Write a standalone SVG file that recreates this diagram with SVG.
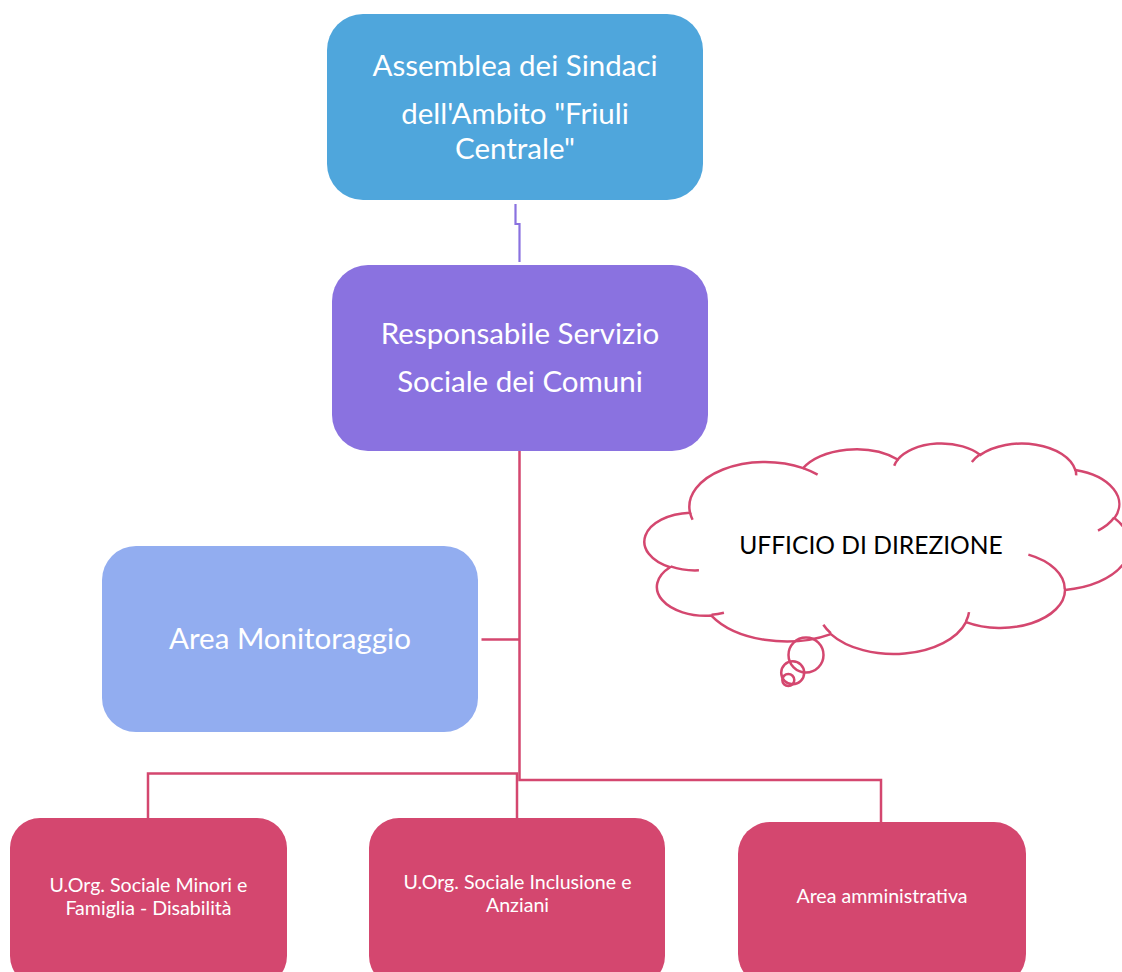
<svg xmlns="http://www.w3.org/2000/svg" width="1122" height="972" viewBox="0 0 1122 972">
<style>
.t{font-family:Lato,"Open Sans","Liberation Sans",sans-serif;fill:#fff;text-anchor:middle}
.big{font-size:29.5px}
.small{font-size:19.6px}
.pink{fill:#D4476F}
.conn{fill:none;stroke:#D4476F;stroke-width:2.5}
.cl{stroke:#D4476F;stroke-width:2.5;vector-effect:non-scaling-stroke}
</style>
<rect width="1122" height="972" fill="#fff"/>
<g id="connectors">
<path d="M515.5 204 V224 H519.5 V262" fill="none" stroke="#8A72E0" stroke-width="2.2"/>
<path class="conn" d="M519.5 451 V780 H881 V822"/>
<path class="conn" d="M148 818 V773.5 H517 V818"/>
<path class="conn" d="M481.5 639.5 H519.5"/>
</g>
<g id="assemblea">
<rect x="327" y="14" width="376" height="186" rx="36" fill="#4FA6DC"/>
<text class="t big" x="515" y="76">Assemblea dei Sindaci</text>
<text class="t big" x="515" y="124">dell'Ambito "Friuli</text>
<text class="t big" x="515" y="159">Centrale"</text>
</g>
<g id="responsabile">
<rect x="332" y="265" width="376" height="186" rx="36" fill="#8A72E0"/>
<text class="t big" x="520" y="344">Responsabile Servizio</text>
<text class="t big" x="520" y="392">Sociale dei Comuni</text>
</g>
<g id="monitoraggio">
<rect x="102" y="546" width="376" height="186" rx="34" fill="#92ADF0"/>
<text class="t big" x="290" y="649">Area Monitoraggio</text>
</g>
<g id="ufficio">
<g transform="translate(646.4 442.8) scale(0.011192 0.004871)">
<path class="cl" fill="#fff" d="M3900,14370 A6753,9190 0 0 1 14006,5203 A5333,7267 0 0 1 22457,3433 A4365,5945 0 0 1 29835,2483 A4857,6595 0 0 1 38320,5578 A5333,7273 0 0 1 41821,15462 A6775,9220 0 0 1 37406,30203 A5785,7867 0 0 1 28557,36813 A6752,9215 0 0 1 16481,39265 A7720,10543 0 0 1 5803,35470 A4360,5918 0 0 1 2112,25548 A4345,5945 0 0 1 3900,14370 Z"/>
<path class="cl" fill="none" d="M4693,26177 A4345,5945 0 0 1 2160,25380 M6928,34899 A4360,5918 0 0 1 5820,35281 M16478,39090 A6752,9215 0 0 1 15810,37350 M28827,34751 A6752,9215 0 0 1 28560,36660 M34129,22954 A5785,7867 0 0 1 37381,30090 M41798,15354 A5333,7273 0 0 1 40350,18030 M38324,5426 A4857,6595 0 0 1 38400,6690 M29078,3952 A4857,6595 0 0 1 29820,2339 M22141,4720 A4365,5945 0 0 1 22500,3330 M14000,5192 A6753,9190 0 0 1 15299,6539 M4127,15789 A6753,9190 0 0 1 3900,14370"/>
</g>
<circle cx="806" cy="655" r="17.5" fill="none" stroke="#D4476F" stroke-width="2.5"/>
<circle cx="792.7" cy="672.7" r="11.5" fill="none" stroke="#D4476F" stroke-width="2.5"/>
<circle cx="788.3" cy="680" r="6" fill="none" stroke="#D4476F" stroke-width="2.5"/>
<text x="871" y="554" font-family="Lato,'Open Sans','Liberation Sans',sans-serif" font-size="24.6" fill="#000" text-anchor="middle">UFFICIO DI DIREZIONE</text>
</g>
<g id="minori">
<rect x="10" y="818" width="277" height="168" rx="30" class="pink"/>
<text class="t small" x="148.5" y="892">U.Org. Sociale Minori e</text>
<text class="t small" x="148.5" y="915">Famiglia - Disabilità</text>
</g>
<g id="inclusione">
<rect x="369" y="818" width="296" height="168" rx="30" class="pink"/>
<text class="t small" x="517.5" y="889">U.Org. Sociale Inclusione e</text>
<text class="t small" x="517.5" y="912">Anziani</text>
</g>
<g id="amministrativa">
<rect x="738" y="822" width="288" height="164" rx="32" class="pink"/>
<text class="t small" x="882" y="903">Area amministrativa</text>
</g>
</svg>
